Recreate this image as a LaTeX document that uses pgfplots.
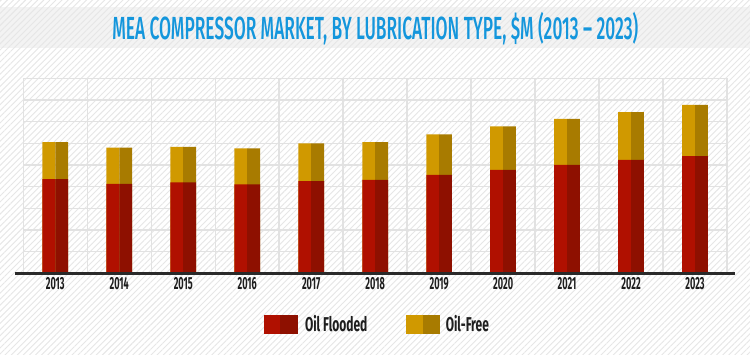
\documentclass[border=0pt]{standalone}
\usepackage{pgfplots}
\pgfplotsset{compat=1.18}
\usepackage{pgfplotstable}
\usepackage{fontspec}
\usepackage{graphicx}
\usetikzlibrary{patterns.meta}
\setmainfont{Fira Sans}
\newfontfamily\condfont[FakeStretch=0.6]{Fira Sans}
\newfontfamily\tickfont[FakeStretch=0.52]{Fira Sans}
\newfontfamily\titlefont{Fira Sans Medium}
\definecolor{redL}{HTML}{B01000}
\definecolor{redD}{HTML}{8E1000}
\definecolor{yelL}{HTML}{D09900}
\definecolor{yelD}{HTML}{A87B00}
\definecolor{gridc}{HTML}{E2E2E2}
\definecolor{axisc}{HTML}{2A2A2A}
\definecolor{tickc}{HTML}{1E1E1E}
\definecolor{stripec}{HTML}{E6E6E6}
\definecolor{bandc}{HTML}{F3F3F3}
\definecolor{titlec}{HTML}{1496DC}

\pgfplotstableread{
x flooded free
0 4.35 1.71
1 4.13 1.67
2 4.20 1.64
3 4.11 1.66
4 4.25 1.75
5 4.31 1.75
6 4.54 1.87
7 4.77 2.01
8 5.00 2.13
9 5.23 2.21
10 5.41 2.36
}\datatable

\begin{document}
\begin{tikzpicture}
\fill[white] (0,0) rectangle (750pt,354pt);
\fill[bandc] (0,306pt) rectangle (750pt,347pt);
\fill[pattern={Lines[angle=45,distance=4.3pt,line width=0.9pt]}, pattern color=stripec] (0,0) rectangle (750pt,354pt);
\node[anchor=base, text=titlec, inner sep=0pt] at (375.3pt,314.7pt)
  {\resizebox{526pt}{\height}{\titlefont\fontsize{32}{32}\selectfont MEA COMPRESSOR MARKET, BY LUBRICATION TYPE, \$M (2013 – 2023)}};
\begin{axis}[
  at={(23.3pt,80.7pt)}, anchor=south west,
  scale only axis, width=703.7pt, height=195pt,
  xmin=-0.5, xmax=10.5, ymin=0, ymax=9,
  xtick={0,1,2,3,4,5,6,7,8,9,10},
  xticklabels={2013,2014,2015,2016,2017,2018,2019,2020,2021,2022,2023},
  minor xtick={-0.5,0.5,...,10.5},
  ytick={0,1,...,9}, yticklabels={},
  xminorgrids, ymajorgrids, xmajorgrids=false,
  grid style={draw=gridc, line width=1.4pt},
  major tick length=0pt, minor tick length=0pt,
  axis line style={draw=none},
  clip=false,
  xticklabel style={font=\tickfont\bfseries\fontsize{17.5}{17.5}\selectfont, text=tickc, yshift=-0.5pt},
  legend style={at={(0.503,-0.262)}, anchor=center, draw=none, fill=none,
    font=\condfont\bfseries\fontsize{20}{20}\selectfont, text=tickc,
    /tikz/every even column/.append style={column sep=37pt}},
  legend columns=2,
  legend cell align=left,
]
\addplot[ybar, bar width=12.85pt, bar shift=-6.425pt, fill=yelL, draw=none, forget plot]
  table[x=x, y expr=\thisrow{flooded}+\thisrow{free}] {\datatable};
\addplot[ybar, bar width=12.85pt, bar shift=6.425pt, fill=yelD, draw=none, forget plot]
  table[x=x, y expr=\thisrow{flooded}+\thisrow{free}] {\datatable};
\addplot[ybar, bar width=12.85pt, bar shift=-6.425pt, fill=redL, draw=none, forget plot]
  table[x=x, y=flooded] {\datatable};
\addplot[ybar, bar width=12.85pt, bar shift=6.425pt, fill=redD, draw=none, forget plot]
  table[x=x, y=flooded] {\datatable};
\draw[line width=2.6pt, axisc] (axis cs:-0.625,0) -- (axis cs:10.625,0);
\addlegendimage{legend image code/.code={\fill[redL] (0pt,-9pt) rectangle (16.5pt,9pt); \fill[redD] (16.5pt,-9pt) rectangle (33pt,9pt); \path (39pt,0pt);}}
\addlegendentry{Oil Flooded}
\addlegendimage{legend image code/.code={\fill[yelL] (0pt,-9pt) rectangle (16.5pt,9pt); \fill[yelD] (16.5pt,-9pt) rectangle (33pt,9pt); \path (37pt,0pt);}}
\addlegendentry{Oil-Free}
\end{axis}
\pgfresetboundingbox
\path (0,0) rectangle (750pt,354pt);
\end{tikzpicture}
\end{document}
